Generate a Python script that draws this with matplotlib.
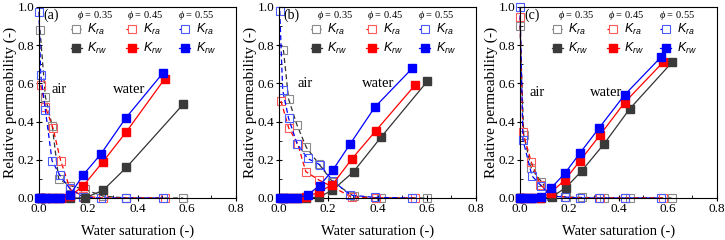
import matplotlib
matplotlib.use("Agg")
import matplotlib.pyplot as plt
from matplotlib.ticker import MultipleLocator

plt.rcParams["font.family"] = ["Liberation Serif", "DejaVu Serif"]
plt.rcParams["mathtext.fontset"] = "custom"
plt.rcParams["mathtext.rm"] = "Liberation Serif"
plt.rcParams["mathtext.it"] = "Liberation Serif:italic"
plt.rcParams["mathtext.sf"] = "Liberation Sans:italic"

# --- data (Sw, Kra, Krw) ---
porosity = ["0.35", "0.45", "0.55"]
panel_tags = ["(a)", "(b)", "(c)"]

# panel (a)
a35_sw = [0.004, 0.026, 0.054, 0.08, 0.125, 0.185, 0.26, 0.355, 0.585]
a35_kra = [0.88, 0.53, 0.375, 0.10, 0.065, 0.045, 0.01, 0.0, 0.0]
a35_krw = [0.0, 0.0, 0.0, 0.0, 0.0, 0.0, 0.04, 0.16, 0.49]
a45_sw = [0.007, 0.026, 0.057, 0.088, 0.127, 0.18, 0.258, 0.355, 0.51]
a45_kra = [0.59, 0.478, 0.365, 0.195, 0.045, 0.01, 0.0, 0.0, 0.0]
a45_krw = [0.0, 0.0, 0.0, 0.0, 0.01, 0.064, 0.187, 0.347, 0.623]
a55_sw = [0.0, 0.007, 0.026, 0.053, 0.084, 0.125, 0.18, 0.25, 0.352, 0.505]
a55_kra = [0.975, 0.644, 0.46, 0.195, 0.12, 0.05, 0.005, 0.0, 0.0, 0.0]
a55_krw = [0.0, 0.0, 0.0, 0.0, 0.0, 0.015, 0.122, 0.228, 0.418, 0.657]

# panel (b)
b35_sw = [0.018, 0.039, 0.073, 0.111, 0.161, 0.217, 0.303, 0.414, 0.603]
b35_kra = [0.775, 0.518, 0.382, 0.265, 0.18, 0.085, 0.01, 0.0, 0.0]
b35_krw = [0.0, 0.0, 0.0, 0.0, 0.005, 0.04, 0.138, 0.318, 0.612]
b45_sw = [0.008, 0.039, 0.076, 0.109, 0.161, 0.217, 0.295, 0.393, 0.553]
b45_kra = [0.508, 0.368, 0.283, 0.138, 0.095, 0.058, 0.005, 0.0, 0.0]
b45_krw = [0.0, 0.0, 0.0, 0.005, 0.03, 0.07, 0.203, 0.352, 0.592]
b55_sw = [0.003, 0.015, 0.039, 0.073, 0.116, 0.165, 0.219, 0.29, 0.39, 0.542]
b55_kra = [0.98, 0.565, 0.417, 0.285, 0.207, 0.175, 0.09, 0.015, 0.003, 0.0]
b55_krw = [0.0, 0.0, 0.0, 0.0, 0.016, 0.065, 0.147, 0.285, 0.477, 0.68]

# panel (c)
c35_sw = [0.0, 0.015, 0.046, 0.087, 0.128, 0.186, 0.25, 0.34, 0.445, 0.617]
c35_kra = [0.9, 0.33, 0.155, 0.085, 0.01, 0.005, 0.003, 0.0, 0.0, 0.0]
c35_krw = [0.0, 0.0, 0.0, 0.0, 0.005, 0.054, 0.141, 0.281, 0.466, 0.71]
c45_sw = [0.0, 0.012, 0.046, 0.082, 0.125, 0.182, 0.244, 0.325, 0.425, 0.582]
c45_kra = [0.95, 0.344, 0.187, 0.07, 0.02, 0.005, 0.0, 0.0, 0.0, 0.0]
c45_krw = [0.0, 0.0, 0.0, 0.0, 0.028, 0.094, 0.195, 0.33, 0.5, 0.712]
c55_sw = [0.0, 0.012, 0.049, 0.086, 0.125, 0.182, 0.244, 0.322, 0.425, 0.572]
c55_kra = [1.0, 0.304, 0.115, 0.064, 0.01, 0.005, 0.0, 0.0, 0.0, 0.0]
c55_krw = [0.0, 0.0, 0.0, 0.005, 0.05, 0.129, 0.236, 0.368, 0.54, 0.737]

# label positions (data coords) for "air" / "water"
air_xy = [(0.05, 0.57), (0.075, 0.60), (0.04, 0.55)]
water_xy = [(0.30, 0.57), (0.335, 0.60), (0.285, 0.55)]

panels = [
    [(a35_sw, a35_kra, a35_krw), (a45_sw, a45_kra, a45_krw), (a55_sw, a55_kra, a55_krw)],
    [(b35_sw, b35_kra, b35_krw), (b45_sw, b45_kra, b45_krw), (b55_sw, b55_kra, b55_krw)],
    [(c35_sw, c35_kra, c35_krw), (c45_sw, c45_kra, c45_krw), (c55_sw, c55_kra, c55_krw)],
]

line_col = ["#333333", "#ff0000", "#0000ff"]
open_col = ["#8a8a8a", "#ff5a5a", "#4a5cff"]
fill_col = ["#3a3a3a", "#ff0000", "#0000ff"]

fig = plt.figure(figsize=(7.25, 2.4), dpi=100)
lefts = [39 / 725, 279 / 725, 520 / 725]
w, h = 197 / 725, 191 / 240
bottom = 1 - 198 / 240

for p, series in enumerate(panels):
    ax = fig.add_axes([lefts[p], bottom, w, h])

    # air relative permeability (open squares, dashed)
    for i, (sw, kra, krw) in enumerate(series):
        ax.plot(sw, kra, ls=(0, (4, 2.5)), lw=0.9, color=line_col[i],
                marker="s", ms=5.3, mfc="none", mec=open_col[i], mew=0.8,
                clip_on=False, zorder=2)
    # water relative permeability (filled squares, solid)
    for i, (sw, kra, krw) in enumerate(series):
        ax.plot(sw, krw, ls="-", lw=0.9, color=line_col[i],
                marker="s", ms=5.3, mfc=fill_col[i], mec=fill_col[i],
                clip_on=False, zorder=3)

    ax.set_xlim(0, 0.8)
    ax.set_ylim(0, 1.0)
    ax.xaxis.set_major_locator(MultipleLocator(0.2))
    ax.yaxis.set_major_locator(MultipleLocator(0.2))
    ax.xaxis.set_minor_locator(MultipleLocator(0.1))
    ax.yaxis.set_minor_locator(MultipleLocator(0.1))
    ax.tick_params(which="major", direction="inout", length=4, width=0.8,
                   labelsize=9.5, pad=1.5)
    ax.tick_params(which="minor", direction="in", length=2.5, width=0.6)
    for s in ax.spines.values():
        s.set_linewidth(0.8)
    ax.set_xlabel("Water saturation (-)", fontsize=10.5, labelpad=7)
    ax.set_ylabel("Relative permeability (-)", fontsize=11, labelpad=0)

    ax.text(0.024, 0.958, panel_tags[p], transform=ax.transAxes,
            fontsize=10, ha="left", va="center")
    ax.text(*air_xy[p], "air", fontsize=10.5, ha="left", va="center")
    ax.text(*water_xy[p], "water", fontsize=10.5, ha="left", va="center")

    # hand-made legend
    hx = [0.188, 0.472, 0.741]
    hcx = [0.284, 0.54, 0.795]
    for i in range(3):
        ax.text(hcx[i], 0.958, r"$\phi$ = " + porosity[i], transform=ax.transAxes,
                fontsize=7.5, ha="center", va="center")
        ax.plot([hx[i] - 0.028, hx[i] + 0.028], [0.885, 0.885], transform=ax.transAxes,
                ls=(0, (3, 2)), lw=0.9, color=line_col[i])
        ax.plot([hx[i]], [0.885], transform=ax.transAxes, marker="s", ms=5.3,
                mfc="white", mec=open_col[i], mew=0.8)
        ax.plot([hx[i] - 0.028, hx[i] + 0.028], [0.785, 0.785], transform=ax.transAxes,
                lw=0.9, color=line_col[i])
        ax.plot([hx[i]], [0.785], transform=ax.transAxes, marker="s", ms=5.3,
                mfc=fill_col[i], mec=fill_col[i])
        ax.text(hx[i] + 0.058, 0.885, r"$\mathsf{K_{ra}}$", transform=ax.transAxes,
                fontsize=9, ha="left", va="center")
        ax.text(hx[i] + 0.058, 0.785, r"$\mathsf{K_{rw}}$", transform=ax.transAxes,
                fontsize=9, ha="left", va="center")

fig.savefig("out.png", dpi=100)
